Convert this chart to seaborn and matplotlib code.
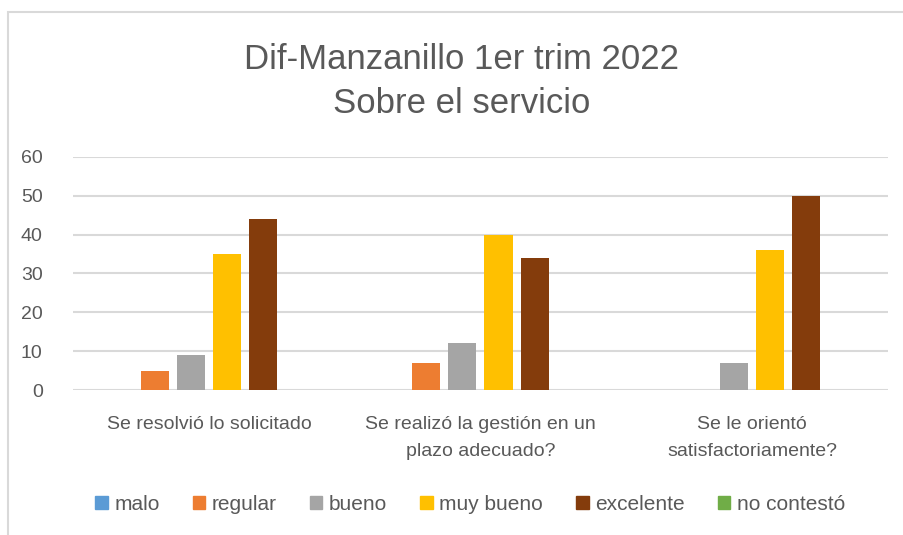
import pandas as pd
import matplotlib.pyplot as plt
import seaborn as sns
from matplotlib.patches import Rectangle

preguntas = [
    "Se resolvió lo solicitado",
    "Se realizó la gestión en un\nplazo adecuado?",
    "Se le orientó\nsatisfactoriamente?",
]
respuestas = ["malo", "regular", "bueno", "muy bueno", "excelente", "no contestó"]
malo = [0, 0, 0]
regular = [5, 7, 0]
bueno = [9, 12, 7]
muy_bueno = [35, 40, 36]
excelente = [44, 34, 50]
no_contesto = [0, 0, 0]

colores = ["#5B9BD5", "#ED7D31", "#A5A5A5", "#FFC000", "#843C0C", "#70AD47"]

series = [malo, regular, bueno, muy_bueno, excelente, no_contesto]
rows = []
for r, vals in zip(respuestas, series):
    for p, v in zip(preguntas, vals):
        rows.append({"pregunta": p, "respuesta": r, "valor": v})
df = pd.DataFrame(rows)

sns.set_style("white")
plt.rcParams["font.family"] = ["Liberation Sans", "DejaVu Sans"]
txt = "#595959"

fig = plt.figure(figsize=(9.04, 5.35), dpi=100)
ax = fig.add_axes([0.081, 0.271, 0.901, 0.436])

sns.barplot(data=df, x="pregunta", y="valor", hue="respuesta",
            order=preguntas, hue_order=respuestas,
            palette=dict(zip(respuestas, colores)), saturation=1,
            width=0.8, gap=0.22, linewidth=0, ax=ax, legend=False)

ax.set_ylim(0, 60)
ax.set_yticks(range(0, 61, 10))
ax.set_xlim(-0.5, 2.5)
ax.yaxis.grid(True, color="#D9D9D9", linewidth=1.5)
ax.set_axisbelow(True)
sns.despine(ax=ax, left=True, bottom=True)
ax.tick_params(axis="both", length=0, labelsize=14, colors=txt)
ax.tick_params(axis="y", pad=22)
ax.tick_params(axis="x", pad=19)
for lbl in ax.get_xticklabels():
    lbl.set_linespacing(1.75)
ax.set_xlabel("")
ax.set_ylabel("")

fig.text(0.511, 0.848, "Dif-Manzanillo 1er trim 2022\nSobre el servicio",
         ha="center", va="center", fontsize=25, color=txt, linespacing=1.4)

handles = [Rectangle((0, 0), 1, 1, color=c) for c in colores]
fig.legend(handles, respuestas, loc="center", bbox_to_anchor=(0.52, 0.057),
           ncol=6, frameon=False, fontsize=15, handlelength=0.6, handleheight=0.6,
           handletextpad=0.3, columnspacing=1.6, labelcolor=txt)

fig.patches.append(Rectangle((0.009, -0.1), 1.2, 0.1 + 0.978, transform=fig.transFigure,
                             fill=False, edgecolor="#D9D9D9", linewidth=1.5))

fig.savefig("out.png", dpi=100)
